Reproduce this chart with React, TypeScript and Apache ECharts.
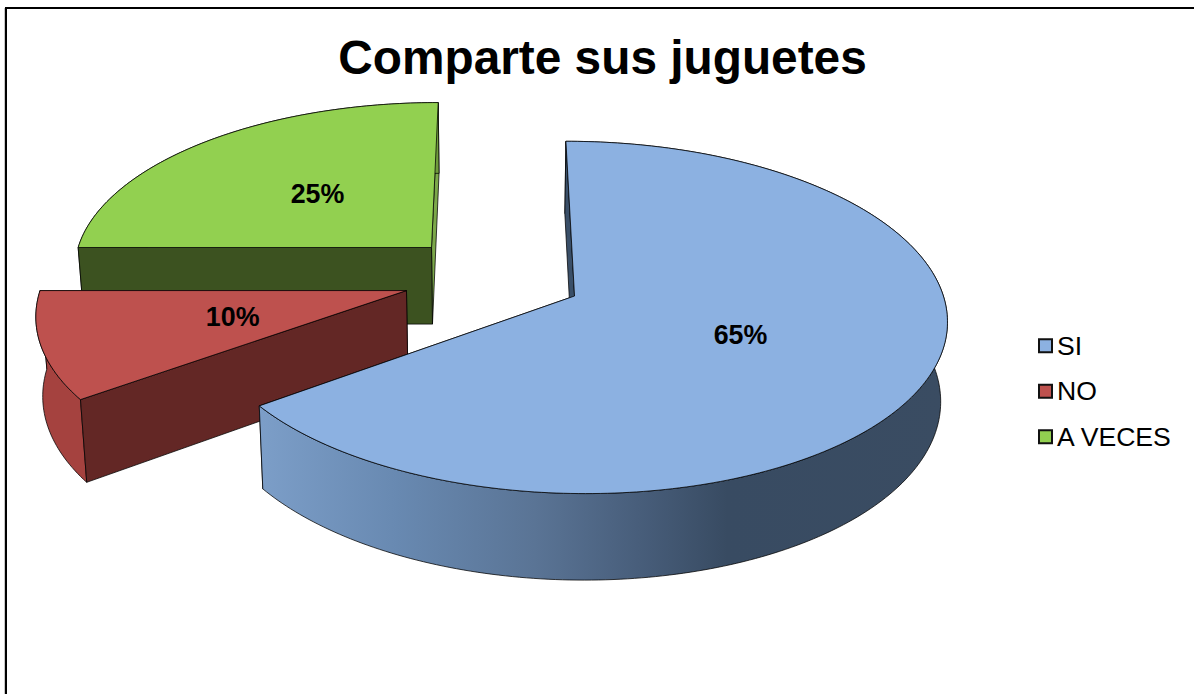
import React, { useEffect, useRef } from "react";
import * as echarts from "echarts";

const categories = ["SI", "NO", "A VECES"];
const values = [65, 10, 25];
const labels = ["65%", "10%", "25%"];

const FONT = '"Liberation Sans", Arial, sans-serif';
const topColors = ["#8CB1E1", "#BE514E", "#92D050"];
const startWallColors = ["#3A4F68", "#632725", "#3C5220"];
const endWallColors = ["#3A4F68", "#A5423F", "#7CA84A"];
const outerWallColors: any[] = [
  new echarts.graphic.LinearGradient(
    260, 0, 947, 0,
    [
      { offset: 0, color: "#7C9EC8" },
      { offset: 0.2, color: "#6889B1" },
      { offset: 0.4, color: "#5A7495" },
      { offset: 0.55, color: "#485E7B" },
      { offset: 0.68, color: "#384B62" },
      { offset: 1, color: "#3A4C62" },
    ],
    true
  ),
  "#A5423F",
  "#6F9A3C",
];
const seriesZ = [3, 2, 1];
const sliceExplode = [0.242, 0.254, 0.254];
const sliceRadiusX = [364, 363, 361];

// projection of the tilted, exploded pie
const CX = 495, CY = 277.2, RY = 169, PERSP = 0.12, DEPTH = 79, SHRINK = 0.985, LABEL_R = 0.485;
const STROKE = "rgba(0,0,0,0.75)";

const total = values.reduce((a, b) => a + b, 0);

function project(X: number, Y: number, bottom: boolean, rx: number): number[] {
  const s = 1 / (1 + PERSP * Y);
  const k = bottom ? SHRINK : 1;
  return [CX + rx * X * s * k, CY + (-RY * Y * s + (bottom ? DEPTH * s : 0)) * k];
}

function renderSlice(index: number) {
  return (_params: any, api: any) => {
    const value = api.value(0);
    let before = 0;
    for (let i = 0; i < index; i++) before += values[i];
    const a0 = (before / total) * Math.PI * 2;
    const a1 = ((before + value) / total) * Math.PI * 2;
    const mid = (a0 + a1) / 2;
    const rx = sliceRadiusX[index];
    const ox = Math.sin(mid) * sliceExplode[index];
    const oy = Math.cos(mid) * sliceExplode[index];
    const rim = (a: number, bottom: boolean) => project(ox + Math.sin(a), oy + Math.cos(a), bottom, rx);
    const arc = (bottom: boolean) => {
      const n = Math.ceil(((a1 - a0) * 180) / Math.PI);
      const pts: number[][] = [];
      for (let i = 0; i <= n; i++) pts.push(rim(a0 + ((a1 - a0) * i) / n, bottom));
      return pts;
    };
    const apexT = project(ox, oy, false, rx);
    const apexB = project(ox, oy, true, rx);
    const wall = (a: number, fill: any) => ({
      type: "polygon",
      shape: { points: [apexT, rim(a, false), rim(a, true), apexB] },
      style: { fill, stroke: STROKE, lineWidth: 1 },
    });
    const lp = project(ox + Math.sin(mid) * LABEL_R, oy + Math.cos(mid) * LABEL_R, false, rx);
    return {
      type: "group",
      children: [
        wall(a1, endWallColors[index]),
        {
          type: "polygon",
          shape: { points: [...arc(false), ...arc(true).reverse()] },
          style: { fill: outerWallColors[index], stroke: STROKE, lineWidth: 1 },
        },
        wall(a0, startWallColors[index]),
        {
          type: "polygon",
          shape: { points: [apexT, ...arc(false)] },
          style: { fill: topColors[index], stroke: STROKE, lineWidth: 1 },
        },
        {
          type: "text",
          x: lp[0],
          y: lp[1],
          style: {
            text: labels[index],
            fill: "#000",
            font: `bold 26.8px ${FONT}`,
            textAlign: "center",
            textVerticalAlign: "middle",
          },
        },
      ],
    };
  };
}

export default function App() {
  const ref = useRef<HTMLDivElement>(null);
  useEffect(() => {
    document.body.style.margin = "0";
    const chart = echarts.init(ref.current!, null, { renderer: "svg" });
    chart.setOption({
      animation: false,
      backgroundColor: "#fff",
      title: {
        text: "Comparte sus juguetes",
        left: 597.5,
        top: 28,
        textAlign: "center",
        textStyle: { fontFamily: FONT, fontWeight: "bold", fontSize: 47.8, color: "#000" },
      },
      legend: {
        orient: "vertical",
        left: 1033,
        top: 326,
        itemWidth: 13,
        itemHeight: 13,
        itemGap: 16,
        itemStyle: { borderColor: "#111", borderWidth: 2 },
        textStyle: { fontFamily: FONT, fontSize: 26.6, color: "#000", lineHeight: 29.5 },
        data: categories.map((name, i) => ({
          name,
          icon: "rect",
          itemStyle: { color: topColors[i], borderColor: "#111", borderWidth: 2 },
        })),
      },
      graphic: [
        { type: "line", shape: { x1: 4.5, y1: 8, x2: 4.5, y2: 694 }, style: { stroke: "#c8c8c8", lineWidth: 1 } },
        { type: "rect", shape: { x: 6, y: 8, width: 1400, height: 900 }, style: { fill: "none", stroke: "#000", lineWidth: 2 } },
      ],
      series: categories.map((name, i) => ({
        type: "custom",
        name,
        coordinateSystem: "none",
        z: seriesZ[i],
        silent: true,
        itemStyle: { color: topColors[i] },
        data: [[values[i]]],
        renderItem: renderSlice(i),
      })),
    });
    return () => chart.dispose();
  }, []);
  return <div ref={ref} style={{ width: 1194, height: 694 }} />;
}
